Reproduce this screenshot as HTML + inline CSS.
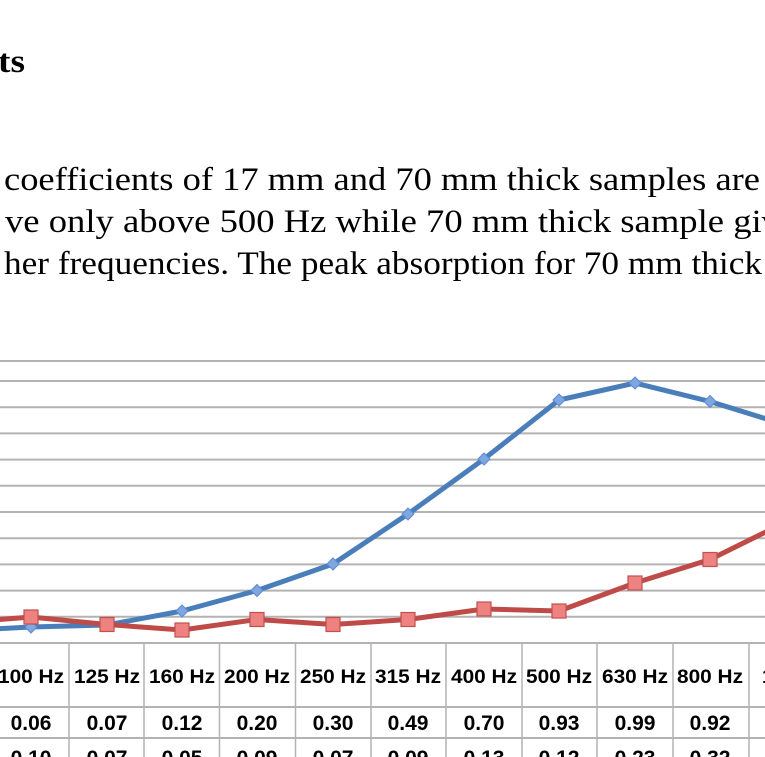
<!DOCTYPE html>
<html><head><meta charset="utf-8"><style>
html,body{margin:0;padding:0;background:#fff;width:765px;height:757px;overflow:hidden}
svg{display:block}
</style></head><body>
<svg width="765" height="757" viewBox="0 0 765 757" xmlns="http://www.w3.org/2000/svg">
<g font-family="Liberation Serif, serif" fill="#000">
<text x="-2" y="72" font-size="33" font-weight="bold" textLength="27" lengthAdjust="spacingAndGlyphs">ts</text>
<text x="4" y="190" font-size="33" textLength="756" lengthAdjust="spacingAndGlyphs">coefficients of 17 mm and 70 mm thick samples are</text>
<text x="5" y="232" font-size="33" textLength="775" lengthAdjust="spacingAndGlyphs">ve only above 500 Hz while 70 mm thick sample giv</text>
<text x="4" y="274" font-size="33" textLength="758" lengthAdjust="spacingAndGlyphs">her frequencies. The peak absorption for 70 mm thick</text>
</g>
<g stroke="#b3b3b3" stroke-width="2">
<line x1="0" y1="361" x2="765" y2="361"/>
<line x1="0" y1="381" x2="765" y2="381"/>
<line x1="0" y1="407.2" x2="765" y2="407.2"/>
<line x1="0" y1="433.4" x2="765" y2="433.4"/>
<line x1="0" y1="459.6" x2="765" y2="459.6"/>
<line x1="0" y1="485.8" x2="765" y2="485.8"/>
<line x1="0" y1="512" x2="765" y2="512"/>
<line x1="0" y1="538.2" x2="765" y2="538.2"/>
<line x1="0" y1="564.4" x2="765" y2="564.4"/>
<line x1="0" y1="590.6" x2="765" y2="590.6"/>
<line x1="0" y1="616.8" x2="765" y2="616.8"/>
<line x1="0" y1="643" x2="765" y2="643"/>
<line x1="0" y1="707" x2="765" y2="707"/>
<line x1="0" y1="738" x2="765" y2="738"/>
</g>
<g stroke="#b3b3b3" stroke-width="1.5">
<line x1="69" y1="643" x2="69" y2="757"/><line x1="144" y1="643" x2="144" y2="757"/>
<line x1="219.5" y1="643" x2="219.5" y2="757"/><line x1="295.5" y1="643" x2="295.5" y2="757"/>
<line x1="371" y1="643" x2="371" y2="757"/><line x1="446" y1="643" x2="446" y2="757"/>
<line x1="522" y1="643" x2="522" y2="757"/><line x1="597" y1="643" x2="597" y2="757"/>
<line x1="673" y1="643" x2="673" y2="757"/><line x1="749" y1="643" x2="749" y2="757"/>
</g>
<polyline fill="none" stroke="#4a7ebb" stroke-width="5" stroke-linejoin="round"
 points="-45,631 31,627 107,625 182,611 257,590.5 333,564 408,514 484,459 559,400 635,383 710,401.5 786,425"/>
<g fill="#7ea6e0" stroke="#5b8bd0" stroke-width="1">
<path d="M31 621l6 6-6 6-6-6z"/><path d="M107 619l6 6-6 6-6-6z"/><path d="M182 605l6 6-6 6-6-6z"/>
<path d="M257 584.5l6 6-6 6-6-6z"/><path d="M333 558l6 6-6 6-6-6z"/><path d="M408 508l6 6-6 6-6-6z"/>
<path d="M484 453l6 6-6 6-6-6z"/><path d="M559 394l6 6-6 6-6-6z"/><path d="M635 377l6 6-6 6-6-6z"/>
<path d="M710 395.5l6 6-6 6-6-6z"/>
</g>
<polyline fill="none" stroke="#be4b48" stroke-width="5" stroke-linejoin="round"
 points="-45,623 31,617 107,624.5 182,630 257,619.5 333,624.5 408,619.5 484,609 559,611 635,583 710,559.5 786,522"/>
<g fill="#ee8280" stroke="#c0504d" stroke-width="1.2">
<rect x="24" y="610" width="14" height="14"/><rect x="100" y="617.5" width="14" height="14"/>
<rect x="175" y="623" width="14" height="14"/><rect x="250" y="612.5" width="14" height="14"/>
<rect x="326" y="617.5" width="14" height="14"/><rect x="401" y="612.5" width="14" height="14"/>
<rect x="477" y="602" width="14" height="14"/><rect x="552" y="604" width="14" height="14"/>
<rect x="628" y="576" width="14" height="14"/><rect x="703" y="552.5" width="14" height="14"/>
</g>
<g font-family="Liberation Sans, sans-serif" font-weight="bold" font-size="19" fill="#000" text-anchor="middle">
<text x="31" y="683" textLength="66" lengthAdjust="spacingAndGlyphs">100 Hz</text>
<text x="107" y="683" textLength="66" lengthAdjust="spacingAndGlyphs">125 Hz</text>
<text x="182" y="683" textLength="66" lengthAdjust="spacingAndGlyphs">160 Hz</text>
<text x="257" y="683" textLength="66" lengthAdjust="spacingAndGlyphs">200 Hz</text>
<text x="333" y="683" textLength="66" lengthAdjust="spacingAndGlyphs">250 Hz</text>
<text x="408" y="683" textLength="66" lengthAdjust="spacingAndGlyphs">315 Hz</text>
<text x="484" y="683" textLength="66" lengthAdjust="spacingAndGlyphs">400 Hz</text>
<text x="559" y="683" textLength="66" lengthAdjust="spacingAndGlyphs">500 Hz</text>
<text x="635" y="683" textLength="66" lengthAdjust="spacingAndGlyphs">630 Hz</text>
<text x="710" y="683" textLength="66" lengthAdjust="spacingAndGlyphs">800 Hz</text>
<text x="800" y="683" textLength="76" lengthAdjust="spacingAndGlyphs">1000 Hz</text>
<g font-size="21">
<text x="31" y="730">0.06</text><text x="107" y="730">0.07</text><text x="182" y="730">0.12</text>
<text x="257" y="730">0.20</text><text x="333" y="730">0.30</text><text x="408" y="730">0.49</text>
<text x="484" y="730">0.70</text><text x="559" y="730">0.93</text><text x="635" y="730">0.99</text>
<text x="710" y="730">0.92</text><text x="786" y="730">0.83</text>
<text x="31" y="765">0.10</text><text x="107" y="765">0.07</text><text x="182" y="765">0.05</text>
<text x="257" y="765">0.09</text><text x="333" y="765">0.07</text><text x="408" y="765">0.09</text>
<text x="484" y="765">0.13</text><text x="559" y="765">0.12</text><text x="635" y="765">0.23</text>
<text x="710" y="765">0.32</text><text x="786" y="765">0.46</text>
</g>
</g>
</svg>
</body></html>
